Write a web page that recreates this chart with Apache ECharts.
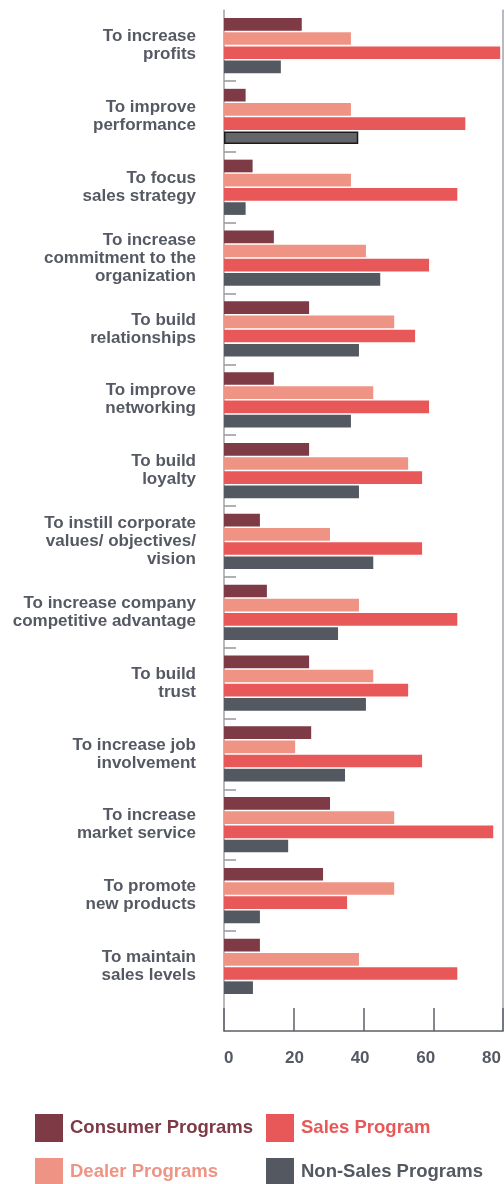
<!DOCTYPE html>
<html>
<head>
<meta charset="utf-8">
<script src="https://cdn.jsdelivr.net/npm/echarts@6/dist/echarts.min.js"></script>
<style>
  html, body { margin: 0; padding: 0; background: #ffffff; }
  #chart { width: 504px; height: 1184px; }
</style>
</head>
<body>
<div id="chart"></div>
<script>
// Reasons for running incentive programs, share of respondents (%) per program type
const categories = [
  'To increase\nprofits',
  'To improve\nperformance',
  'To focus\nsales strategy',
  'To increase\ncommitment to the\norganization',
  'To build\nrelationships',
  'To improve\nnetworking',
  'To build\nloyalty',
  'To instill corporate\nvalues/ objectives/\nvision',
  'To increase company\ncompetitive advantage',
  'To build\ntrust',
  'To increase job\ninvolvement',
  'To increase\nmarket service',
  'To promote\nnew products',
  'To maintain\nsales levels'
];

const consumerPrograms = [22.3, 6.2, 8.2, 14.3, 24.4, 14.3, 24.4, 10.3, 12.3, 24.4, 25.0, 30.4, 28.4, 10.3];
const dealerPrograms   = [36.4, 36.4, 36.4, 40.7, 48.8, 42.8, 52.8, 30.4, 38.7, 42.8, 20.4, 48.8, 48.8, 38.7];
const salesProgram     = [79.2, 69.2, 66.9, 58.8, 54.8, 58.8, 56.8, 56.8, 66.9, 52.8, 56.8, 77.2, 35.3, 66.9];
const nonSalesPrograms = [16.3, 38.5, 6.2, 44.8, 38.7, 36.4, 38.7, 42.8, 32.7, 40.7, 34.7, 18.4, 10.3, 8.3];

const tickLabels = [0, 20, 40, 60, 80];

const seriesNames = ['Consumer Programs', 'Dealer Programs', 'Sales Program', 'Non-Sales Programs'];
const seriesColors = ['#7e3a45', '#ef9485', '#e85858', '#545861'];
const seriesValues = [consumerPrograms, dealerPrograms, salesProgram, nonSalesPrograms];

const FONT = '"Liberation Sans", Arial, Helvetica, sans-serif';
const LABEL_GREY = '#555963';
const FRAME_GREY = '#a2a2a9';

// layout of the plot: one band per category, plus a short empty strip above the x axis
const plotLeft = 224, plotRight = 1, plotTop = 10.2, band = 70.83, bottomStrip = 29.2;
const plotHeight = categories.length * band;
const frameBottom = 1184 - (plotTop + plotHeight + bottomStrip);

// the hovered bar in "To improve performance" (Non-Sales) is drawn with an outline
function buildData(values, seriesIndex) {
  return values.map((v, i) => {
    if (seriesIndex === 3 && i === 1) {
      return { value: v, itemStyle: { color: '#646569', borderColor: '#1c1c1c', borderWidth: 1.5 } };
    }
    return v;
  });
}

const chart = echarts.init(document.getElementById('chart'), null, { renderer: 'canvas' });

const legendItem = (i) => ({
  name: seriesNames[i],
  textStyle: { color: seriesColors[i] }
});

const legendBase = {
  orient: 'vertical',
  top: 1114,
  height: 90,
  padding: 0,
  itemWidth: 28,
  itemHeight: 28,
  itemGap: 16,
  icon: 'rect',
  selectedMode: false,
  textStyle: { fontFamily: FONT, fontSize: 18.5, fontWeight: 'bold', padding: [6, 0, 0, 2] }
};

const hiddenY = { show: false };

chart.setOption({
  animation: false,
  backgroundColor: '#ffffff',
  legend: [
    Object.assign({}, legendBase, { left: 35, data: [legendItem(0), legendItem(1)] }),
    Object.assign({}, legendBase, { left: 266, data: [legendItem(2), legendItem(3)] })
  ],
  grid: [
    // bars
    { left: plotLeft, right: plotRight, top: plotTop, height: plotHeight },
    // frame: side lines, x axis line and ticks
    { left: plotLeft, right: plotRight, top: plotTop, bottom: frameBottom },
    // x tick labels
    { left: plotLeft, right: plotRight, top: plotTop, bottom: frameBottom }
  ],
  xAxis: [
    { type: 'value', gridIndex: 0, min: 0, max: 80, show: false },
    {
      type: 'value', gridIndex: 1, min: 0, max: 80, interval: 20, position: 'bottom',
      axisLine: { show: true, onZero: false, lineStyle: { color: '#5c5f67', width: 1.5 } },
      axisTick: { show: true, inside: true, length: 23, lineStyle: { color: '#5f6169', width: 1.5 } },
      axisLabel: { show: false },
      splitLine: { show: false }
    },
    // labels spaced slightly tighter than the ticks
    {
      type: 'value', gridIndex: 2, min: -1.42, max: 83.12, position: 'bottom',
      axisLine: { show: false, onZero: false },
      axisTick: { show: false },
      splitLine: { show: false },
      axisLabel: {
        show: true,
        customValues: tickLabels,
        margin: 19,
        color: LABEL_GREY,
        fontFamily: FONT,
        fontSize: 17,
        fontWeight: 'bold'
      }
    }
  ],
  yAxis: [
    {
      type: 'category', gridIndex: 0, inverse: true, data: categories,
      axisLine: { show: false },
      axisTick: { show: false },
      axisLabel: {
        show: true,
        margin: 28,
        align: 'right',
        color: LABEL_GREY,
        fontFamily: FONT,
        fontSize: 17,
        fontWeight: 'bold',
        lineHeight: 18,
        padding: [0, 0, 6, 0]
      }
    },
    {
      type: 'value', gridIndex: 1, inverse: true, min: 0, max: categories.length + bottomStrip / band,
      position: 'left',
      axisLine: { show: true, onZero: false, lineStyle: { color: FRAME_GREY, width: 1.5 } },
      axisTick: {
        show: true, inside: true, length: 12,
        customValues: categories.slice(1).map((c, i) => i + 1),
        lineStyle: { color: '#96969d', width: 1.5 }
      },
      axisLabel: { show: false },
      splitLine: { show: false }
    },
    {
      type: 'value', gridIndex: 1, min: 0, max: 1, position: 'right',
      axisLine: { show: true, onZero: false, lineStyle: { color: FRAME_GREY, width: 1.5 } },
      axisTick: { show: false },
      axisLabel: { show: false },
      splitLine: { show: false }
    },
    Object.assign({ type: 'value', gridIndex: 2 }, hiddenY)
  ],
  series: seriesNames.map((name, i) => ({
    name: name,
    type: 'bar',
    xAxisIndex: 0,
    yAxisIndex: 0,
    data: buildData(seriesValues[i], i),
    itemStyle: { color: seriesColors[i] },
    barGap: '12%',
    barCategoryGap: '22%',
    emphasis: { disabled: true }
  }))
});
</script>
</body>
</html>
